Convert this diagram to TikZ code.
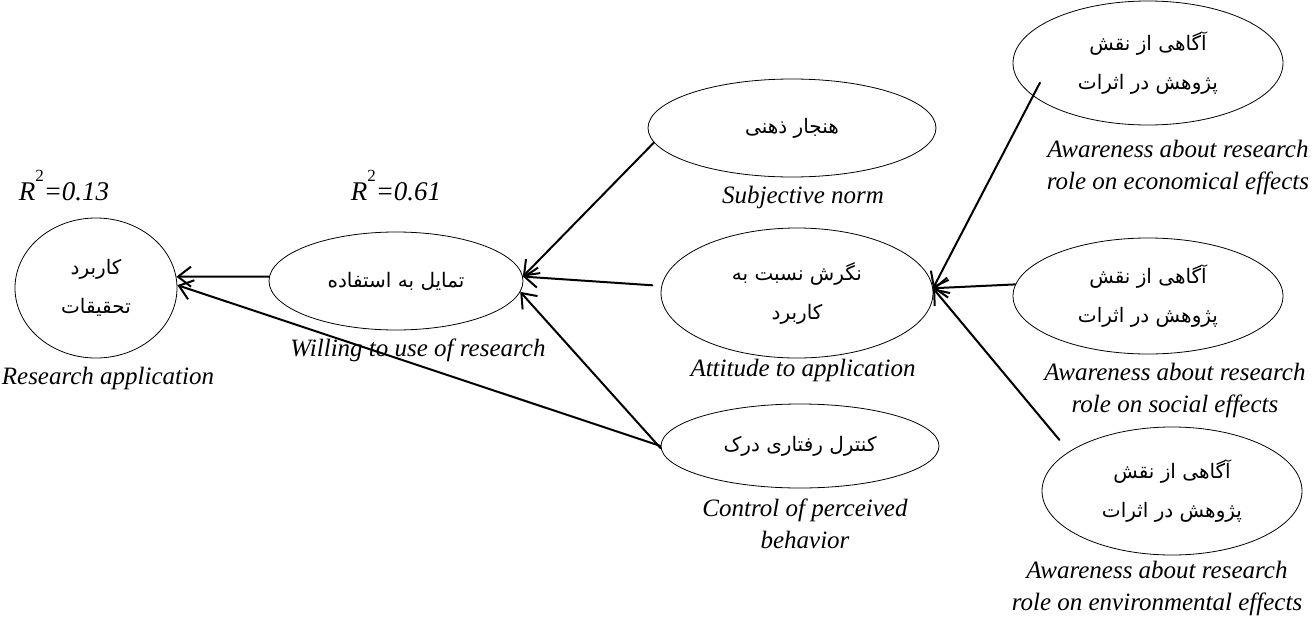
\documentclass[tikz,border=0pt]{standalone}
\usepackage{fontspec}
\setmainfont{Liberation Serif}
\newfontfamily\farsi[Script=Arabic]{DejaVu Sans}
\TeXXeTstate=1
\usetikzlibrary{shapes.geometric,arrows.meta}
\newcommand{\fatext}[1]{\beginR #1\endR}
\newcommand{\rsq}[1]{R\raisebox{.7em}{\fontsize{17}{17}\selectfont\upshape 2}=#1}
\begin{document}
\begin{tikzpicture}[x=1pt,y=-1pt,>={Straight Barb[length=13pt,width=20pt]}, line join=round, line cap=round,
	elp/.style={draw,ellipse,line width=.8pt,inner sep=0pt,align=center,font=\farsi\fontsize{20}{39}\selectfont},
	lbl/.style={align=center,font=\itshape\fontsize{25}{32}\selectfont},
	arr/.style={->,line width=2pt}]
	\useasboundingbox (0,0) rectangle (1312,616);
	% Ellipses
	\node[elp,minimum width=162pt,minimum height=140pt] (app) at (96,288) {\fatext{کاربرد}\\\fatext{تحقیقات}};
	\node[elp,minimum width=254pt,minimum height=98pt] (will) at (396,281) {\fatext{تمایل به استفاده}};
	\node[elp,minimum width=288pt,minimum height=98pt] (norm) at (792,128) {\fatext{هنجار ذهنی}};
	\node[elp,minimum width=272pt,minimum height=130pt] (att) at (797,293) {\fatext{نگرش نسبت به}\\\fatext{کاربرد}};
	\node[elp,minimum width=278pt,minimum height=84pt] (ctrl) at (800,446) {\fatext{کنترل رفتاری درک}};
	\node[elp,minimum width=270pt,minimum height=124pt] (eco) at (1148,63) {\fatext{آگاهی از نقش}\\\fatext{پژوهش در اثرات}};
	\node[elp,minimum width=270pt,minimum height=116pt] (soc) at (1148,296) {\fatext{آگاهی از نقش}\\\fatext{پژوهش در اثرات}};
	\node[elp,minimum width=260pt,minimum height=128pt] (env) at (1172,491) {\fatext{آگاهی از نقش}\\\fatext{پژوهش در اثرات}};
	% Labels
	\node[lbl,font=\itshape\fontsize{27}{32}\selectfont] (rapp) at (64,186) {\rsq{0.13}};
	\node[lbl,font=\itshape\fontsize{27}{32}\selectfont] (rwill) at (396,186) {\rsq{0.61}};
	\node[lbl] (lapp) at (108,378) {Research application};
	\node[lbl] (lwill) at (418,350) {Willing to use of research};
	\node[lbl] (lnorm) at (803,197) {Subjective norm};
	\node[lbl] (latt) at (803,370) {Attitude to application};
	\node[lbl] (lctrl) at (805,524) {Control of perceived\\behavior};
	\node[lbl] (leco) at (1178,167) {Awareness about research\\role on economical effects};
	\node[lbl] (lsoc) at (1175,390) {Awareness about research\\role on social effects};
	\node[lbl] (lenv) at (1157,588) {Awareness about research\\role on environmental effects};
	% Paths
	\draw[arr] (will.178) -- (app.8);
	\draw[arr] (ctrl.west) -- (app.2);
	\draw[arr] (norm.186) -- (will.2);
	\draw[arr,shorten <=9pt] (att.177) -- (will.2);
	\draw[arr] (ctrl.181) -- (will.-5);
	\draw[arr,shorten <=-15pt] (eco.196) -- (att.2);
	\draw[arr] (soc.175) -- (att.2);
	\draw[arr,shorten <=15pt] (env.159) -- (att.2);
\end{tikzpicture}
\end{document}
